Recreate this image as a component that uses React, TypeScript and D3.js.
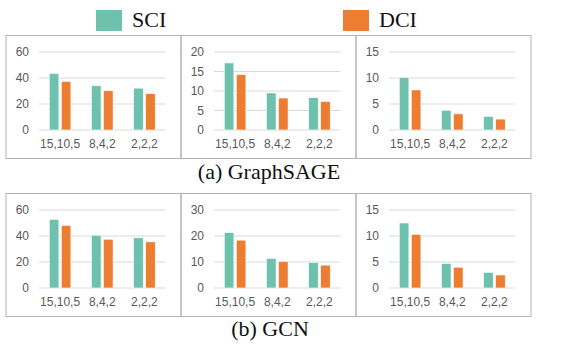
import React from "react";
import * as d3 from "d3";

const categories = ["15,10,5", "8,4,2", "2,2,2"];
const seriesNames = ["SCI", "DCI"];
const seriesColors = ["#6dc1ad", "#ed7d31"];

// GraphSAGE
const sage1SCI = [43.5, 34.0, 32.2];
const sage1DCI = [37.4, 30.2, 27.9];
const sage2SCI = [17.2, 9.5, 8.3];
const sage2DCI = [14.2, 8.2, 7.3];
const sage3SCI = [10.1, 3.8, 2.6];
const sage3DCI = [7.7, 3.1, 2.1];
// GCN
const gcn1SCI = [52.8, 40.6, 38.6];
const gcn1DCI = [48.2, 37.5, 35.5];
const gcn2SCI = [21.3, 11.4, 9.8];
const gcn2DCI = [18.4, 10.2, 8.8];
const gcn3SCI = [12.5, 4.7, 3.0];
const gcn3DCI = [10.3, 4.0, 2.5];

const yMaxes = [60, 20, 15, 60, 30, 15];
const yTicks = [
  [0, 20, 40, 60],
  [0, 5, 10, 15, 20],
  [0, 5, 10, 15],
  [0, 20, 40, 60],
  [0, 10, 20, 30],
  [0, 5, 10, 15],
];
const captions = ["(a) GraphSAGE", "(b) GCN"];

const panelData = [
  [sage1SCI, sage1DCI],
  [sage2SCI, sage2DCI],
  [sage3SCI, sage3DCI],
  [gcn1SCI, gcn1DCI],
  [gcn2SCI, gcn2DCI],
  [gcn3SCI, gcn3DCI],
];

const W = 568;
const H = 346;
const panelXs = [6, 181, 356, 531];
const rowTops = [35.5, 193.5];
const panelH = 123;
const tickFont = "'Liberation Sans', Arial, sans-serif";
const serif = "'Liberation Serif', 'Times New Roman', serif";

function Panel({ idx }: { idx: number }) {
  const col = idx % 3;
  const row = Math.floor(idx / 3);
  const left = panelXs[col];
  const right = panelXs[col + 1];
  const top = rowTops[row];
  const gx0 = left + 33;
  const gx1 = right - 15.5;
  const yTop = top + 16.5;
  const yZero = top + 94.5;
  const y = d3.scaleLinear().domain([0, yMaxes[idx]]).range([yZero, yTop]);
  const x0 = d3.scaleBand<string>().domain(categories).range([gx0, gx1]).paddingInner(0.487).paddingOuter(0.2435);
  const x1 = d3.scaleBand<string>().domain(seriesNames).range([0, x0.bandwidth()]).paddingInner(0.2);
  const data = panelData[idx];
  return (
    <g>
      <rect x={left} y={top} width={right - left} height={panelH} fill="none" stroke="#b3b3b3" strokeWidth={1} />
      {yTicks[idx].map((t) => (
        <g key={t}>
          <line x1={gx0} x2={gx1} y1={y(t)} y2={y(t)} stroke="#d9d9d9" strokeWidth={1} />
          <text x={left + 23} y={y(t)} dy="0.35em" textAnchor="end" fontSize={12} fill="#595959" fontFamily={tickFont}>
            {t}
          </text>
        </g>
      ))}
      {categories.map((c, ci) => (
        <g key={c}>
          {seriesNames.map((s, si) => (
            <rect
              key={s}
              x={(x0(c) as number) + (x1(s) as number)}
              y={y(data[si][ci])}
              width={x1.bandwidth()}
              height={yZero - y(data[si][ci])}
              fill={seriesColors[si]}
              stroke="#ffffff"
              strokeWidth={0.6}
            />
          ))}
          <text
            x={(x0(c) as number) + x0.bandwidth() / 2}
            y={yZero + 18}
            textAnchor="middle"
            fontSize={12}
            fill="#595959"
            fontFamily={tickFont}
          >
            {c}
          </text>
        </g>
      ))}
    </g>
  );
}

export default function App() {
  return (
    <svg width={W} height={H} style={{ position: "absolute", left: 0, top: 0, background: "#fff" }}>
      <rect x={0} y={0} width={W} height={H} fill="#fff" />
      {seriesNames.map((s, i) => {
        const lx = i === 0 ? 96 : 343;
        return (
          <g key={s}>
            <rect x={lx} y={10} width={26} height={21} fill={seriesColors[i]} />
            <text x={lx + 36} y={27} fontSize={22} fontFamily={serif} fill="#111">
              {s}
            </text>
          </g>
        );
      })}
      {[0, 1, 2, 3, 4, 5].map((i) => (
        <Panel key={i} idx={i} />
      ))}
      <text x={269} y={179} textAnchor="middle" fontSize={22} fontFamily={serif} fill="#111">
        {captions[0]}
      </text>
      <text x={270} y={336} textAnchor="middle" fontSize={22} fontFamily={serif} fill="#111">
        {captions[1]}
      </text>
    </svg>
  );
}
